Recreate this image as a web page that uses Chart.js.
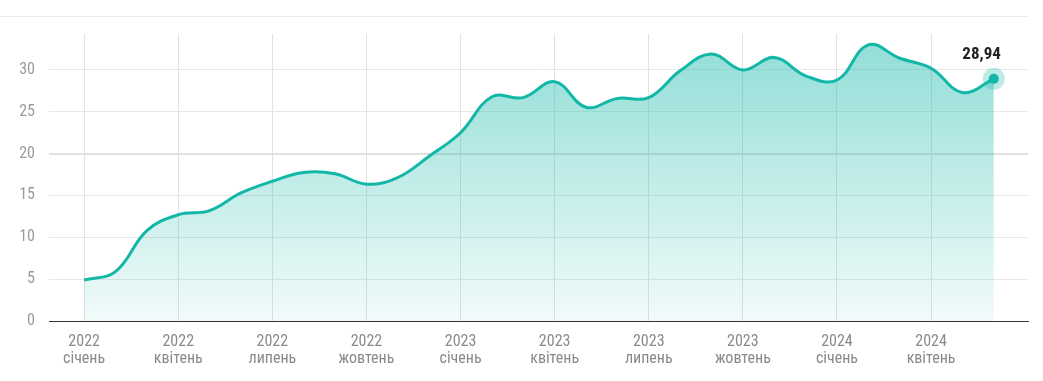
<!DOCTYPE html>
<html>
<head>
<meta charset="utf-8">
<script src="https://cdn.jsdelivr.net/npm/chart.js@4.4.1/dist/chart.umd.min.js"></script>
<style>
  html,body{margin:0;padding:0;background:#fff;}
  #wrap{position:relative;width:1043px;height:381px;}
</style>
</head>
<body>
<div id="wrap"><canvas id="c" width="1043" height="381"></canvas></div>
<script>
// month index 0 = 2022 січень
const monthIndex = [0,1,2,3,4,5,6,7,8,9,10,11,12,13,14,15,16,17,18,19,20,21,22,23,24,25,26,27,28,29];
const values = [4.9,5.9,10.8,12.7,13.2,15.3,16.7,17.75,17.6,16.35,17.15,19.7,
                22.5,26.8,26.7,28.6,25.55,26.6,26.7,29.9,31.9,30.0,31.5,29.3,
                28.8,33.0,31.4,30.2,27.3,28.94];
const tickPositions = [0,3,6,9,12,15,18,21,24,27];
const tickYears = ['2022','2022','2022','2022','2023','2023','2023','2023','2024','2024'];
const tickMonths = ['січень','квітень','липень','жовтень','січень','квітень','липень','жовтень','січень','квітень'];
const yTicks = [0,5,10,15,20,25,30];
const lastLabel = '28,94';

const FONT = "'Liberation Sans Narrow','Roboto Condensed','Roboto',sans-serif";
const TEAL = '#12b7a8';

const pts = monthIndex.map((m,i)=>({x:m,y:values[i]}));

const decor = {
  id:'decor',
  beforeDraw(chart){
    const ctx = chart.ctx;
    ctx.save();
    ctx.strokeStyle = '#ececec';
    ctx.lineWidth = 1;
    ctx.beginPath();
    ctx.moveTo(0,16.5);
    ctx.lineTo(chart.chartArea.right,16.5);
    ctx.stroke();
    ctx.restore();
  },
  afterDatasetsDraw(chart){
    const meta = chart.getDatasetMeta(0);
    const p = meta.data[meta.data.length-1];
    const ctx = chart.ctx;
    ctx.save();
    ctx.fillStyle = 'rgba(18,183,168,0.28)';
    ctx.beginPath();
    ctx.arc(p.x,p.y,11,0,Math.PI*2);
    ctx.fill();
    ctx.fillStyle = TEAL;
    ctx.beginPath();
    ctx.arc(p.x,p.y,5,0,Math.PI*2);
    ctx.fill();
    ctx.fillStyle = '#222';
    ctx.font = "bold 17px " + FONT;
    ctx.textAlign = 'right';
    ctx.textBaseline = 'alphabetic';
    ctx.fillText(lastLabel, p.x+7, p.y-20);
    ctx.restore();
  }
};

const ctx = document.getElementById('c').getContext('2d');
new Chart(ctx,{
  type:'line',
  data:{
    datasets:[{
      data:pts,
      borderColor:TEAL,
      borderWidth:3,
      tension:0.4,
      pointRadius:0,
      pointHoverRadius:0,
      fill:'origin',
      backgroundColor:(c)=>{
        const a = c.chart.chartArea;
        if(!a) return 'rgba(18,183,168,0.3)';
        const g = c.chart.ctx.createLinearGradient(0,a.top,0,a.bottom);
        g.addColorStop(0,'rgba(18,183,168,0.47)');
        g.addColorStop(1,'rgba(18,183,168,0.06)');
        return g;
      }
    }]
  },
  options:{
    responsive:false,
    animation:false,
    events:[],
    layout:{padding:{top:34,right:15,left:0,bottom:0}},
    plugins:{legend:{display:false},tooltip:{enabled:false}},
    scales:{
      x:{
        type:'linear',
        min:-1.12,
        max:30.09,
        afterBuildTicks:(s)=>{s.ticks = tickPositions.map(v=>({value:v}));},
        afterFit:(s)=>{s.height = 60;},
        grid:{color:'#e2e2e2',drawTicks:false,lineWidth:1},
        border:{display:true,color:'#333',width:1},
        ticks:{
          autoSkip:false,
          maxRotation:0,
          padding:13,
          color:'#8a8a8a',
          font:{family:FONT,size:16,lineHeight:1.05},
          callback:(v)=>{const i=tickPositions.indexOf(v); return i<0?'':[tickYears[i],tickMonths[i]];}
        }
      },
      y:{
        min:0,
        max:34.3,
        afterBuildTicks:(s)=>{s.ticks = yTicks.map(v=>({value:v}));},
        afterFit:(s)=>{s.width = 49;},
        grid:{
          drawTicks:false,
          color:(c)=> c.tick && c.tick.value===20 ? '#e0e0e0' : '#e8e8e8',
          lineWidth:(c)=> c.tick && c.tick.value===20 ? 2 : 1
        },
        border:{display:false},
        ticks:{
          padding:14,
          color:'#9a9a9a',
          font:{family:FONT,size:16},
          callback:(v)=>String(v)
        }
      }
    }
  },
  plugins:[decor]
});
</script>
</body>
</html>
